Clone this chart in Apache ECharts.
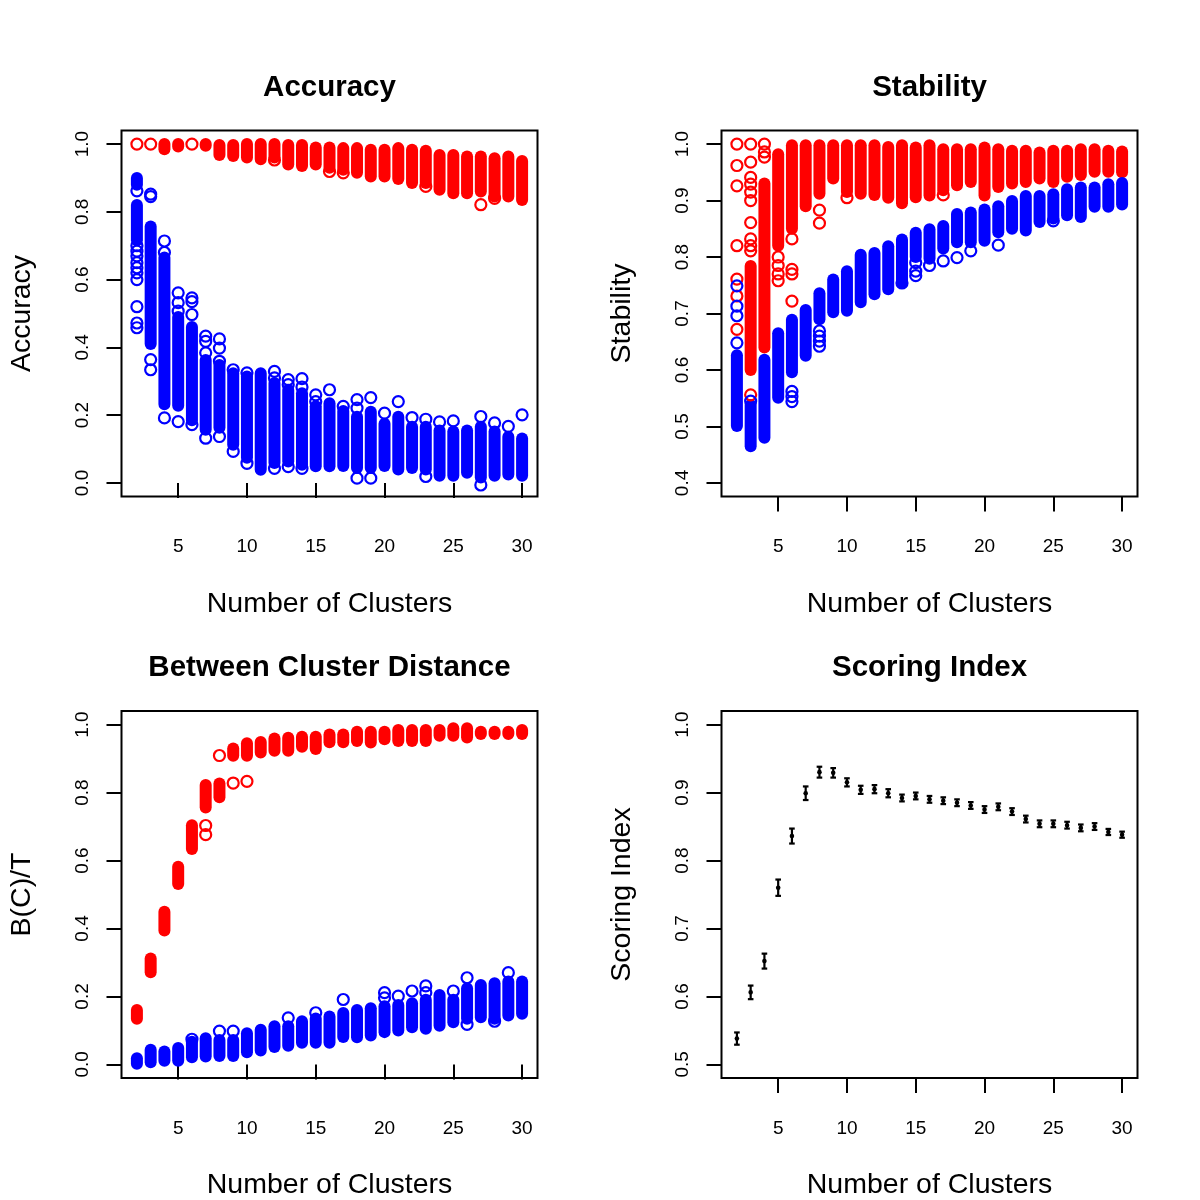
<!DOCTYPE html>
<html>
<head>
<meta charset="utf-8">
<script src="https://cdn.jsdelivr.net/npm/echarts@6/dist/echarts.min.js"></script>
<style>html,body{margin:0;padding:0;background:#fff}#c{width:1200px;height:1200px}</style>
</head>
<body>
<div id="c"></div>
<script>
// ---------- DATA ----------
const xTicks = [5, 10, 15, 20, 25, 30];
const yTicks01 = [0.0, 0.2, 0.4, 0.6, 0.8, 1.0];
const yTicksStab = [0.4, 0.5, 0.6, 0.7, 0.8, 0.9, 1.0];
const yTicksScore = [0.5, 0.6, 0.7, 0.8, 0.9, 1.0];

const titles = ["Accuracy", "Stability", "Between Cluster Distance", "Scoring Index"];
const yNames = ["Accuracy", "Stability", "B(C)/T", "Scoring Index"];
const xName = "Number of Clusters";

// dense columns of overlapping circles: [clusters, lowest value, highest value]
// isolated circles: [clusters, value]
const accRedBands = [[4,0.985,1.0],[5,0.993,1.0],[7,0.995,1.0],[8,0.968,0.997],[9,0.965,0.997],[10,0.96,1.0],[11,0.955,1.0],[12,0.96,1.0],[13,0.94,0.997],[14,0.935,0.997],[15,0.94,0.99],[16,0.93,0.99],[17,0.924,0.988],[18,0.915,0.988],[19,0.904,0.983],[20,0.904,0.983],[21,0.897,0.988],[22,0.885,0.983],[23,0.885,0.98],[24,0.865,0.968],[25,0.855,0.968],[26,0.855,0.963],[27,0.86,0.963],[28,0.845,0.958],[29,0.845,0.963],[30,0.835,0.95]];
const accRedPts = [[2,1.0],[3,1.0],[6,1.0],[12,0.953],[16,0.919],[17,0.915],[23,0.875],[27,0.821],[28,0.84]];
const accBlueBands = [[2,0.88,0.90],[2,0.716,0.82],[3,0.41,0.757],[4,0.232,0.665],[5,0.228,0.49],[6,0.185,0.46],[7,0.157,0.363],[8,0.163,0.348],[9,0.113,0.324],[10,0.074,0.314],[11,0.039,0.324],[12,0.059,0.295],[13,0.063,0.275],[14,0.054,0.265],[15,0.049,0.226],[16,0.049,0.235],[17,0.05,0.212],[18,0.044,0.195],[19,0.044,0.21],[20,0.05,0.175],[21,0.04,0.195],[22,0.044,0.166],[23,0.04,0.166],[24,0.021,0.155],[25,0.021,0.152],[26,0.03,0.155],[27,0.016,0.166],[28,0.021,0.152],[29,0.025,0.136],[30,0.021,0.131]];
const accBluePts = [[2,0.862],[2,0.70],[2,0.684],[2,0.67],[2,0.65],[2,0.635],[2,0.62],[2,0.60],[2,0.52],[2,0.472],[2,0.458],[3,0.852],[3,0.845],[3,0.364],[3,0.334],[4,0.714],[4,0.68],[4,0.192],[5,0.561],[5,0.532],[5,0.507],[5,0.181],[6,0.546],[6,0.535],[6,0.497],[6,0.172],[7,0.433],[7,0.418],[7,0.384],[7,0.132],[8,0.425],[8,0.398],[8,0.359],[8,0.137],[9,0.334],[9,0.093],[10,0.325],[10,0.058],[12,0.329],[12,0.31],[12,0.043],[13,0.305],[13,0.29],[13,0.048],[14,0.308],[14,0.283],[14,0.043],[15,0.26],[15,0.24],[16,0.275],[17,0.226],[18,0.246],[18,0.221],[18,0.014],[19,0.252],[19,0.014],[20,0.206],[21,0.24],[22,0.193],[23,0.188],[23,0.019],[24,0.18],[25,0.183],[27,0.196],[27,-0.006],[28,0.177],[29,0.167],[30,0.201]];

const stabRedBands = [[3,0.60,0.784],[4,0.64,0.93],[5,0.82,0.982],[6,0.85,0.998],[7,0.89,0.998],[8,0.912,0.998],[9,0.939,0.998],[10,0.915,0.998],[11,0.912,0.998],[12,0.91,0.998],[13,0.905,0.995],[14,0.895,0.998],[15,0.906,0.994],[16,0.909,0.998],[17,0.918,0.991],[18,0.927,0.991],[19,0.933,0.991],[20,0.909,0.994],[21,0.924,0.991],[22,0.93,0.988],[23,0.933,0.988],[24,0.939,0.985],[25,0.933,0.988],[26,0.942,0.988],[27,0.945,0.991],[28,0.951,0.991],[29,0.951,0.988],[30,0.95,0.987]];
const stabRedPts = [[2,1.0],[2,0.962],[2,0.926],[2,0.82],[2,0.761],[2,0.731],[2,0.672],[3,1.0],[3,0.968],[3,0.941],[3,0.929],[3,0.915],[3,0.90],[3,0.861],[3,0.832],[3,0.82],[3,0.811],[3,0.556],[4,1.0],[4,0.986],[4,0.977],[5,0.80],[5,0.785],[5,0.77],[5,0.758],[6,0.832],[6,0.778],[6,0.77],[6,0.722],[8,0.883],[8,0.86],[10,0.905],[17,0.91]];
const stabBlueBands = [[2,0.501,0.626],[3,0.465,0.538],[4,0.48,0.618],[5,0.551,0.665],[6,0.596,0.689],[7,0.625,0.706],[8,0.69,0.736],[9,0.702,0.76],[10,0.705,0.775],[11,0.72,0.804],[12,0.734,0.807],[13,0.743,0.819],[14,0.755,0.831],[15,0.80,0.843],[16,0.797,0.849],[17,0.815,0.855],[18,0.826,0.876],[19,0.826,0.879],[20,0.829,0.884],[21,0.844,0.89],[22,0.85,0.899],[23,0.847,0.908],[24,0.862,0.908],[25,0.868,0.911],[26,0.874,0.92],[27,0.871,0.923],[28,0.889,0.923],[29,0.889,0.929],[30,0.893,0.931]];
const stabBluePts = [[2,0.749],[2,0.713],[2,0.696],[2,0.648],[3,0.545],[6,0.562],[6,0.553],[6,0.544],[8,0.669],[8,0.66],[8,0.651],[8,0.642],[14,0.754],[15,0.79],[15,0.775],[15,0.767],[16,0.785],[17,0.793],[18,0.799],[19,0.811],[21,0.821],[25,0.864]];

const bcdRedBands = [[2,0.134,0.16],[3,0.271,0.312],[4,0.394,0.449],[5,0.531,0.582],[6,0.634,0.704],[7,0.756,0.822],[8,0.786,0.827],[9,0.908,0.93],[10,0.908,0.945],[11,0.918,0.949],[12,0.923,0.959],[13,0.923,0.961],[14,0.935,0.964],[15,0.928,0.964],[16,0.948,0.971],[17,0.948,0.971],[18,0.952,0.979],[19,0.947,0.979],[20,0.957,0.979],[21,0.952,0.984],[22,0.952,0.984],[23,0.952,0.984],[24,0.967,0.984],[25,0.967,0.989],[26,0.962,0.989],[27,0.972,0.979],[28,0.972,0.979],[29,0.972,0.979],[30,0.972,0.984]];
const bcdRedPts = [[7,0.703],[7,0.676],[8,0.909],[9,0.828],[10,0.833]];
const bcdBlueBands = [[2,0.002,0.018],[3,0.006,0.043],[4,0.011,0.038],[5,0.011,0.048],[6,0.021,0.067],[7,0.023,0.077],[8,0.025,0.072],[9,0.025,0.072],[10,0.036,0.092],[11,0.041,0.102],[12,0.051,0.112],[13,0.055,0.112],[14,0.064,0.127],[15,0.064,0.135],[16,0.064,0.141],[17,0.081,0.151],[18,0.08,0.16],[19,0.085,0.165],[20,0.095,0.171],[21,0.1,0.175],[22,0.109,0.18],[23,0.105,0.19],[24,0.114,0.204],[25,0.124,0.19],[26,0.134,0.224],[27,0.139,0.234],[28,0.134,0.239],[29,0.144,0.244],[30,0.149,0.244]];
const bcdBluePts = [[6,0.074],[8,0.098],[9,0.098],[13,0.137],[15,0.152],[17,0.191],[20,0.211],[20,0.196],[21,0.201],[22,0.216],[23,0.231],[23,0.211],[25,0.216],[26,0.255],[26,0.118],[28,0.127],[29,0.27]];

const scoreClusters = [2,3,4,5,6,7,8,9,10,11,12,13,14,15,16,17,18,19,20,21,22,23,24,25,26,27,28,29,30];
const scoreMean = [0.538,0.606,0.652,0.760,0.836,0.899,0.930,0.929,0.915,0.904,0.905,0.899,0.892,0.895,0.890,0.888,0.885,0.881,0.875,0.879,0.872,0.861,0.854,0.854,0.852,0.848,0.850,0.842,0.838];
const scoreErr  = [0.009,0.010,0.011,0.012,0.011,0.010,0.008,0.007,0.006,0.006,0.006,0.006,0.005,0.005,0.005,0.005,0.005,0.005,0.005,0.005,0.005,0.005,0.005,0.005,0.005,0.005,0.005,0.0045,0.0045];

// ---------- CHART ----------
const FONT = '"Liberation Sans", Arial, Helvetica, sans-serif';
const RED = '#FF0000', BLUE = '#0000FF';
const grids = [
  {left:121.5, top:130.5, width:416, height:366},
  {left:721.5, top:130.5, width:416, height:366},
  {left:121.5, top:711, width:416, height:367},
  {left:721.5, top:711, width:416, height:367}
];
const yRanges = [[-0.04,1.04,yTicks01],[0.376,1.024,yTicksStab],[-0.04,1.04,yTicks01],[0.48,1.02,yTicksScore]];

const SYM = 11, LW = 2.2, R = 6;
const TICKFS = 19, NAMEFS = 28.5, TITLEFS = 29.5;

function bandSeries(data, color, gi) {
  return {
    type:'custom', xAxisIndex:gi, yAxisIndex:gi, silent:true,
    encode:{x:0, y:[1,2]},
    data:data,
    renderItem:function(params, api){
      const x = api.value(0), lo = api.value(1), hi = api.value(2);
      const pt = api.coord([x, hi]), pb = api.coord([x, lo]);
      return {type:'rect',
        shape:{x:pt[0]-R, y:pt[1]-R, width:2*R, height:(pb[1]-pt[1])+2*R, r:R},
        style:{fill:color}};
    }
  };
}
function ptSeries(data, color, gi) {
  return {
    type:'scatter', xAxisIndex:gi, yAxisIndex:gi, silent:true,
    symbol:'circle', symbolSize:SYM, data:data,
    itemStyle:{color:'rgba(0,0,0,0)', borderColor:color, borderWidth:LW, opacity:1}
  };
}

const scoreData = scoreClusters.map((k,i)=>[k, scoreMean[i], scoreErr[i]]);

const xAxes = grids.map((g,i)=>({
  gridIndex:i, type:'value', min:0.88, max:31.12,
  axisLine:{show:false}, splitLine:{show:false},
  axisTick:{show:true, inside:false, length:15, customValues:xTicks, lineStyle:{color:'#000', width:2}},
  axisLabel:{show:true, customValues:xTicks, margin:41, fontSize:TICKFS, color:'#000', fontFamily:FONT},
  name:xName, nameLocation:'middle', nameGap:93,
  nameTextStyle:{fontSize:NAMEFS, color:'#000', fontFamily:FONT}
}));
const yAxes = grids.map((g,i)=>({
  gridIndex:i, type:'value', min:yRanges[i][0], max:yRanges[i][1],
  axisLine:{show:false}, splitLine:{show:false},
  axisTick:{show:true, inside:false, length:15, customValues:yRanges[i][2], lineStyle:{color:'#000', width:2}},
  axisLabel:{show:true, customValues:yRanges[i][2], rotate:90, margin:29, fontSize:TICKFS, color:'#000', fontFamily:FONT,
    formatter:function(v){return Number(v).toFixed(1);}},
  name:yNames[i], nameLocation:'middle', nameGap:85, nameRotate:90,
  nameTextStyle:{fontSize:NAMEFS, color:'#000', fontFamily:FONT}
}));

const titleGraphics = titles.map((t,i)=>({
  type:'text', silent:true,
  x: grids[i].left + grids[i].width/2,
  y: i < 2 ? 88 : 668,
  style:{text:t, fill:'#000', fontSize:TITLEFS, fontWeight:'bold', fontFamily:FONT, align:'center', verticalAlign:'middle'}
}));

const series = [
  bandSeries(accRedBands, RED, 0), ptSeries(accRedPts, RED, 0),
  bandSeries(accBlueBands, BLUE, 0), ptSeries(accBluePts, BLUE, 0),
  bandSeries(stabRedBands, RED, 1), ptSeries(stabRedPts, RED, 1),
  bandSeries(stabBlueBands, BLUE, 1), ptSeries(stabBluePts, BLUE, 1),
  bandSeries(bcdRedBands, RED, 2), ptSeries(bcdRedPts, RED, 2),
  bandSeries(bcdBlueBands, BLUE, 2), ptSeries(bcdBluePts, BLUE, 2),
  {
    type:'custom', xAxisIndex:3, yAxisIndex:3, silent:true,
    encode:{x:0, y:1}, data:scoreData,
    renderItem:function(params, api){
      const x = api.value(0), m = api.value(1), e = api.value(2);
      const t = api.coord([x, m+e]), b = api.coord([x, m-e]), c = api.coord([x, m]);
      const cw = 2.8, st = {stroke:'#000', lineWidth:2.2};
      return {type:'group', children:[
        {type:'line', shape:{x1:t[0], y1:t[1], x2:b[0], y2:b[1]}, style:st},
        {type:'line', shape:{x1:t[0]-cw, y1:t[1], x2:t[0]+cw, y2:t[1]}, style:st},
        {type:'line', shape:{x1:b[0]-cw, y1:b[1], x2:b[0]+cw, y2:b[1]}, style:st},
        {type:'circle', shape:{cx:c[0], cy:c[1], r:2.3}, style:{fill:'#000'}}
      ]};
    }
  }
];

const chart = echarts.init(document.getElementById('c'), null, {renderer:'canvas', width:1200, height:1200});
chart.setOption({
  animation:false,
  backgroundColor:'#fff',
  textStyle:{fontFamily:FONT},
  grid: grids.map(g=>Object.assign({show:true, borderColor:'#000', borderWidth:2, backgroundColor:'rgba(0,0,0,0)', containLabel:false, outerBoundsMode:'none'}, g)),
  xAxis:xAxes, yAxis:yAxes,
  graphic:titleGraphics,
  series:series
});
</script>
</body>
</html>
